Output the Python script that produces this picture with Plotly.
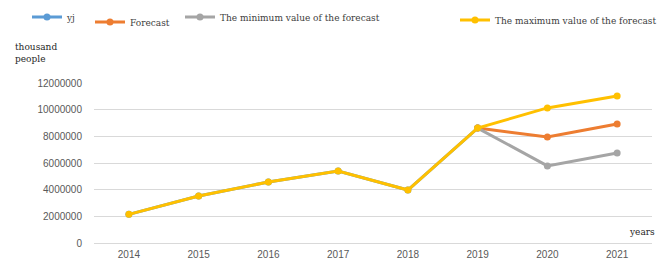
import plotly.graph_objects as go

years = ["2014", "2015", "2016", "2017", "2018", "2019", "2020", "2021"]
yj = [2150000, 3520000, 4580000, 5400000, 3970000, 8620000, None, None]
forecast = [None, None, None, None, None, 8620000, 7950000, 8930000]
min_forecast = [None, None, None, None, None, 8620000, 5780000, 6750000]
max_forecast = [2150000, 3520000, 4580000, 5400000, 3970000, 8620000, 10130000, 11030000]
y_ticks = [0, 2000000, 4000000, 6000000, 8000000, 10000000, 12000000]

series = [
    ("yj", yj, "#5B9BD5", "legend"),
    ("Forecast", forecast, "#ED7D31", "legend2"),
    ("The minimum value of the forecast", min_forecast, "#A5A5A5", "legend3"),
    ("The maximum value of the forecast", max_forecast, "#FFC000", "legend4"),
]

fig = go.Figure()
for name, vals, color, lg in series:
    fig.add_trace(go.Scatter(
        x=years, y=vals, name=name, mode="lines+markers",
        line=dict(color=color, width=3), marker=dict(color=color, size=7),
        connectgaps=False, legend=lg,
    ))

W, H = 659, 269
L, R, T, B = 94, 7, 83, 26
PW = W - L - R
PH = H - T - B

def px(x):
    return (x - L) / PW

def py(y):
    return (H - B - y) / PH

legend_font = dict(family="DejaVu Serif, Liberation Serif, serif", size=9, color="#404040")
def lg(x, y):
    return dict(x=x / W, y=1 - y / H, xref="container", yref="container",
                xanchor="left", yanchor="middle", orientation="h",
                font=legend_font, bgcolor="rgba(0,0,0,0)", borderwidth=0,
                itemwidth=30, tracegroupgap=0)

fig.update_layout(
    width=W, height=H,
    margin=dict(l=L, r=R, t=T, b=B, autoexpand=False),
    paper_bgcolor="white", plot_bgcolor="white",
    showlegend=True,
    legend=lg(27, 17),
    legend2=lg(90, 22),
    legend3=lg(180, 17),
    legend4=lg(455, 20),
    xaxis=dict(type="category", showgrid=False, showline=False, zeroline=False,
               ticks="", automargin=False, ticklabelstandoff=4,
               tickfont=dict(family="Liberation Sans, Arial, sans-serif", size=10, color="#595959"),
               range=[-0.5, 7.5]),
    yaxis=dict(range=[0, 12000000], tickvals=y_ticks, ticktext=[str(v) for v in y_ticks],
               showgrid=True, gridcolor="#D9D9D9", gridwidth=1, zeroline=True,
               zerolinecolor="#D9D9D9", zerolinewidth=1, showline=False, ticks="",
               ticklabelstandoff=11, automargin=False,
               tickfont=dict(family="Liberation Sans, Arial, sans-serif", size=10, color="#595959")),
    annotations=[
        dict(text="thousand<br>people", x=px(13), y=py(53), xref="paper", yref="paper",
             xanchor="left", yanchor="middle", showarrow=False, align="left",
             font=dict(family="DejaVu Serif, Liberation Serif, serif", size=9, color="#262626")),
        dict(text="years", x=px(627), y=py(232), xref="paper", yref="paper",
             xanchor="left", yanchor="middle", showarrow=False,
             font=dict(family="DejaVu Serif, Liberation Serif, serif", size=9, color="#262626")),
    ],
)

fig.write_html("out.html", post_script="document.body.style.margin='0';",
               config={"displayModeBar": False})
